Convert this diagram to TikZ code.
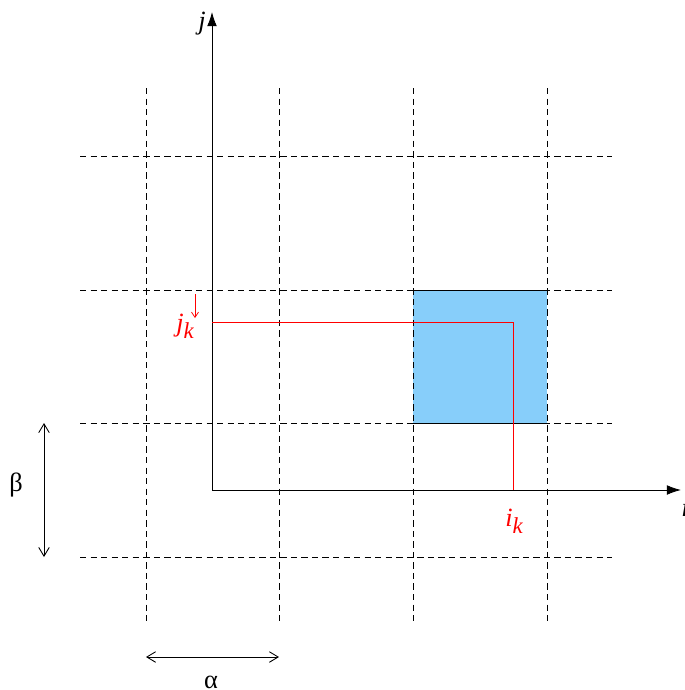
\documentclass[tikz,border=0pt]{standalone}
\usepackage{fontspec}
\setmainfont{Liberation Serif}
\newfontfamily\labelfont{Liberation Serif}
\usetikzlibrary{arrows.meta}

\newcommand{\lowk}{\raisebox{-0.55ex}{\fontsize{13}{14}\selectfont k}}

\begin{document}
\begin{tikzpicture}[x=0.02cm, y=-0.02cm,
    gridline/.style={dash pattern=on 3.6pt off 2.4pt, line width=0.5pt},
    axisline/.style={line width=0.5pt, -{Latex[length=8pt, width=5.5pt]}},
    span/.style={line width=0.5pt, {Straight Barb[length=5pt, width=6pt]}-{Straight Barb[length=5pt, width=6pt]}},
    lbl/.style={font=\labelfont\fontsize{15}{17}\selectfont, inner sep=0pt}]

    \useasboundingbox (0,0) rectangle (684,690);
    \clip (0,0) rectangle (684,690);

    \coordinate (O) at (212, 490);
    \coordinate (Xend) at (681, 490);
    \coordinate (Yend) at (212, 12);

    % cell of the tile
    \coordinate (P) at (413, 290);
    \coordinate (Q) at (547, 423);
    \coordinate (K) at (513, 322);
    \coordinate (Kx) at (513, 490);
    \coordinate (Ky) at (212, 322);

    \fill[fill={rgb,255:red,135;green,206;blue,250}] (P) rectangle (Q);
    \draw[line width=0.5pt] (413, 290) -- (547, 290);
    \draw[line width=0.5pt] (413, 423) -- (547, 423);

    % dashed lattice
    \draw[gridline] (146, 88) -- (146, 622);
    \draw[gridline] (279, 88) -- (279, 622);
    \draw[gridline] (413, 88) -- (413, 622);
    \draw[gridline] (547, 88) -- (547, 622);
    \draw[gridline] (80, 156) -- (612, 156);
    \draw[gridline] (80, 290) -- (612, 290);
    \draw[gridline] (80, 423) -- (612, 423);
    \draw[gridline] (80, 557) -- (612, 557);

    % axes
    \draw[axisline] (O) -- (Xend);
    \draw[axisline] (O) -- (Yend);

    % the point (i_k, j_k)
    \draw[red, line width=0.5pt] (Ky) -- (K) -- (Kx);
    \coordinate (Atop) at (195, 294);
    \coordinate (Abot) at (195, 318);
    \draw[red, line width=0.4pt, -{Straight Barb[length=3pt, width=4pt]}] (Atop) -- (Abot);

    \node[lbl] (jlab) at (202, 24) {\itshape j};
    \node[lbl] (ilab) at (685, 508) {\itshape i};
    \node[lbl, red] (jk) at (185, 326) {\itshape j\lowk};
    \node[lbl, red] (ik) at (514, 521) {\itshape i\lowk};

    % periods
    \coordinate (Bt) at (44, 423);
    \coordinate (Bb) at (44, 557);
    \coordinate (Al) at (146, 657);
    \coordinate (Ar) at (279, 657);
    \draw[span] (Bt) -- (Bb);
    \draw[span] (Al) -- (Ar);
    \node[lbl] (beta) at (16, 485) {β};
    \node[lbl] (alpha) at (211, 682) {α};
\end{tikzpicture}
\end{document}
